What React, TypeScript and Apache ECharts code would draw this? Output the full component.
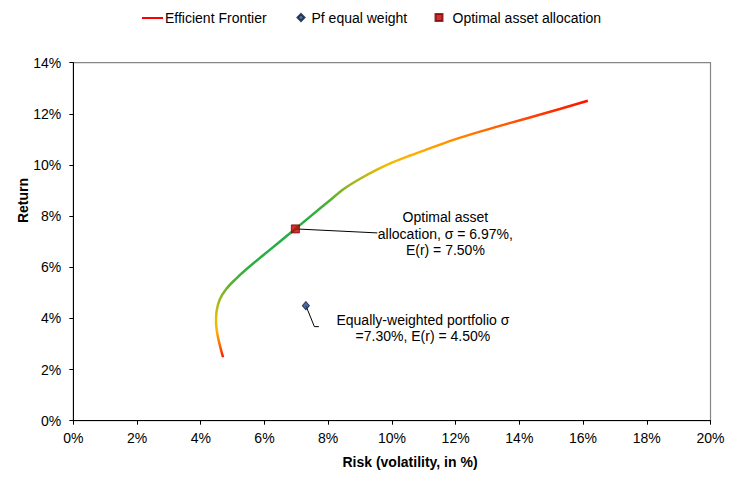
import React, { useEffect, useRef } from "react";
import * as echarts from "echarts";

// Efficient frontier: [risk %, return %]
const frontierRisk = [4.70, 4.60, 4.52, 4.48, 4.50, 4.60, 4.80, 5.08, 5.45, 5.95, 6.46, 6.97, 7.48, 8.00, 8.50, 9.00, 9.50, 10.04, 10.55, 11.08, 12.12, 13.17, 14.22, 15.27, 16.15];
const frontierReturn = [2.48, 2.95, 3.40, 3.85, 4.30, 4.75, 5.15, 5.52, 5.94, 6.46, 6.98, 7.50, 8.03, 8.56, 9.07, 9.46, 9.80, 10.11, 10.36, 10.60, 11.06, 11.45, 11.82, 12.19, 12.51];

const equalWeight = [7.30, 4.50];
const optimal = [6.97, 7.50];

const xTicks = { min: 0, max: 20, interval: 2 };
const yTicks = { min: 0, max: 14, interval: 2 };

const seriesNames = ["Efficient Frontier", "Pf equal weight", "Optimal asset allocation"];
const optimalLabel = "Optimal asset\nallocation, σ = 6.97%,\nE(r) = 7.50%";
const equalLabel = "Equally-weighted portfolio σ\n=7.30%, E(r) = 4.50%";

const gradientColors = [
  "#ff1a00", "#ff7000", "#ffb000", "#e8bc00", "#b4b818", "#80b428", "#4cb038",
  "#30ae40", "#26ae44", "#24ae44", "#24ae44", "#28ae42", "#4cb038", "#80b428",
  "#b4b818", "#f0bc00", "#ffac00", "#ff8a00", "#ff6000", "#ff3800", "#ff1000",
];

const FONT = "Liberation Sans";

export default function App() {
  const ref = useRef<HTMLDivElement>(null);

  useEffect(() => {
    if (!ref.current) return;
    const chart = echarts.init(ref.current, null, { renderer: "svg" });
    const frontierData = frontierRisk.map((r, i) => [r, frontierReturn[i]]);

    const legendText = { fontFamily: FONT, fontSize: 14, color: "#000" };

    chart.setOption({
      animation: false,
      textStyle: { fontFamily: FONT },
      grid: {
        left: 73.3,
        right: 29.5,
        top: 62.7,
        bottom: 59.3,
        show: true,
        borderColor: "#868686",
        borderWidth: 1.2,
        backgroundColor: "transparent",
      },
      legend: [
        {
          top: 11,
          left: 142,
          padding: 0,
          itemWidth: 21,
          itemHeight: 14,
          selectedMode: false,
          textStyle: { ...legendText, padding: [0, 0, 0, -3] },
          data: [{ name: seriesNames[0], icon: "path://M0,0H21V1H0Z M0,1H21V2H0Z", itemStyle: { color: "#ff0000" } }],
        },
        {
          top: 10.5,
          left: 296.5,
          padding: 0,
          itemWidth: 7,
          itemHeight: 7,
          selectedMode: false,
          textStyle: { ...legendText, padding: [0, 0, 0, 2] },
          data: [{ name: seriesNames[1], icon: "diamond" }],
        },
        {
          top: 10.5,
          left: 434.5,
          padding: 0,
          itemWidth: 7,
          itemHeight: 7,
          selectedMode: false,
          textStyle: { ...legendText, padding: [0, 0, 0, 5] },
          data: [{ name: seriesNames[2], icon: "rect" }],
        },
      ],
      visualMap: {
        type: "continuous",
        show: false,
        seriesIndex: 0,
        dimension: 1,
        min: 2.5,
        max: 12.5,
        inRange: { color: gradientColors },
      },
      xAxis: {
        type: "value",
        min: xTicks.min,
        max: xTicks.max,
        interval: xTicks.interval,
        splitLine: { show: false },
        axisLine: { show: true, onZero: false, lineStyle: { color: "#000", width: 1 } },
        axisTick: { show: true, length: 4, lineStyle: { color: "#000" } },
        axisLabel: { formatter: "{value}%", fontFamily: FONT, fontSize: 14, color: "#000", margin: 10 },
      },
      yAxis: {
        type: "value",
        min: yTicks.min,
        max: yTicks.max,
        interval: yTicks.interval,
        splitLine: { show: false },
        axisLine: { show: true, onZero: false, lineStyle: { color: "#000", width: 1 } },
        axisTick: { show: true, length: 4, lineStyle: { color: "#000" } },
        axisLabel: { formatter: "{value}%", fontFamily: FONT, fontSize: 14, color: "#000", margin: 12 },
      },
      series: [
        {
          name: seriesNames[0],
          type: "line",
          data: frontierData,
          smooth: 0.35,
          symbol: "none",
          showSymbol: false,
          color: "#ff0000",
          lineStyle: { width: 2.5 },
          z: 2,
        },
        {
          name: seriesNames[1],
          type: "scatter",
          data: [equalWeight],
          symbol: "diamond",
          symbolSize: [7, 8],
          itemStyle: { color: "#1f4e89", borderColor: "#0b1a33", borderWidth: 1 },
          z: 3,
        },
        {
          name: seriesNames[2],
          type: "scatter",
          data: [optimal],
          symbol: "rect",
          symbolSize: 8,
          itemStyle: { color: "#c00000", borderColor: "#7a0000", borderWidth: 1 },
          z: 4,
        },
      ],
    });

    const pOpt = chart.convertToPixel({ gridIndex: 0 }, optimal) as number[];
    const pEq = chart.convertToPixel({ gridIndex: 0 }, equalWeight) as number[];

    const textStyle = {
      fontFamily: FONT,
      fontSize: 14,
      fill: "#000",
      align: "center",
      verticalAlign: "middle",
      lineHeight: 16.5,
    };

    chart.setOption({
      graphic: [
        {
          type: "polyline",
          z: 1,
          shape: { points: [[pOpt[0], pOpt[1]], [pOpt[0] + 82, pOpt[1] + 4]] },
          style: { stroke: "#000", lineWidth: 1, fill: "none" },
        },
        {
          type: "text",
          x: pOpt[0] + 150,
          y: pOpt[1] + 5,
          style: { ...textStyle, text: optimalLabel },
        },
        {
          type: "polyline",
          z: 1,
          shape: {
            points: [
              [pEq[0], pEq[1]],
              [pEq[0] + 8.5, pEq[1] + 21],
              [pEq[0] + 13, pEq[1] + 21],
            ],
          },
          style: { stroke: "#000", lineWidth: 1, fill: "none" },
        },
        {
          type: "text",
          x: pEq[0] + 117,
          y: pEq[1] + 22.5,
          style: { ...textStyle, text: equalLabel },
        },
        {
          type: "text",
          x: 410,
          y: 462,
          style: { ...textStyle, fontWeight: "bold", text: "Risk (volatility, in %)" },
        },
        {
          type: "text",
          x: 23,
          y: 200.5,
          rotation: Math.PI / 2,
          style: { ...textStyle, fontWeight: "bold", text: "Return" },
        },
      ],
    });

    return () => chart.dispose();
  }, []);

  return (
    <div
      ref={ref}
      style={{ position: "fixed", left: 0, top: 0, width: 740, height: 480, background: "#fff" }}
    />
  );
}
